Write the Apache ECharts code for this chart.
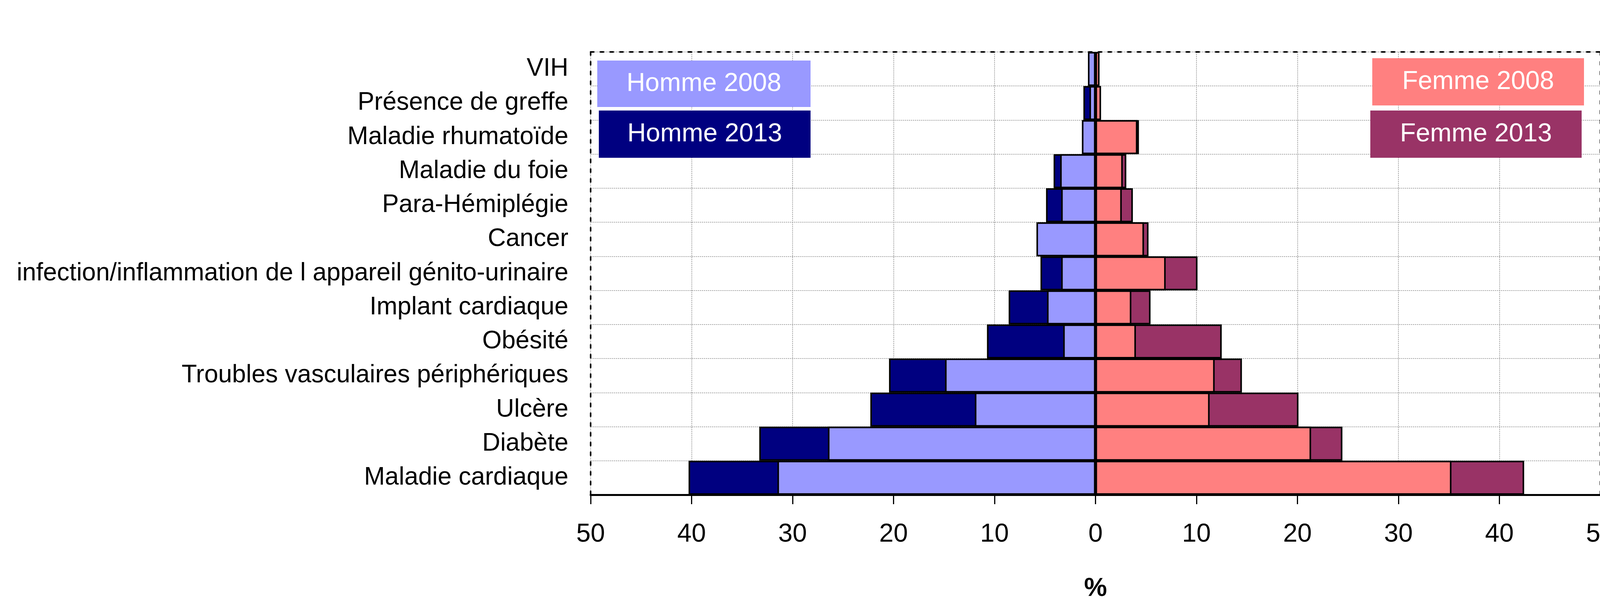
<!DOCTYPE html>
<html><head><meta charset="utf-8">
<script src="https://cdn.jsdelivr.net/npm/echarts@6/dist/echarts.min.js"></script>
<style>html,body{margin:0;padding:0;background:#fff}#c{width:4195px;height:1562px}</style>
</head><body><div id="c"></div>
<script>
const categories = ['VIH','Présence de greffe','Maladie rhumatoïde','Maladie du foie','Para-Hémiplégie','Cancer','infection/inflammation de l appareil génito-urinaire','Implant cardiaque','Obésité','Troubles vasculaires périphériques','Ulcère','Diabète','Maladie cardiaque'];
const homme2008 = [0.75, 0.6, 1.35, 3.5, 3.4, 5.85, 3.4, 4.8, 3.2, 14.9, 11.95, 26.5, 31.5];
const homme2013 = [0.7, 1.2, 1.3, 4.15, 4.9, 5.7, 5.45, 8.6, 10.75, 20.45, 22.3, 33.3, 40.3];
const femme2008 = [0.4, 0.55, 4.15, 2.7, 2.6, 4.8, 6.95, 3.55, 4.0, 11.8, 11.3, 21.35, 35.25];
const femme2013 = [0.35, 0.5, 4.3, 3.05, 3.7, 5.25, 10.1, 5.45, 12.5, 14.5, 20.1, 24.45, 42.45];
const seriesNames = ['Homme 2008','Homme 2013','Femme 2008','Femme 2013'];
const colors = {'Homme 2008':'#9999FF','Homme 2013':'#000080','Femme 2008':'#FF8080','Femme 2013':'#993366'};
const axisMin = -50, axisMax = 50, axisInterval = 10;
const axisTitle = '%';

const FONT = '"Liberation Sans", Arial, sans-serif';
const chart = echarts.init(document.getElementById('c'), null, {renderer:'canvas'});

function barSeries(name, values, negative){
  return {
    name, type:'bar', xAxisIndex:0, yAxisIndex:0,
    data: values.map(v => negative ? -v : v),
    barGap:'-100%', barCategoryGap:'0%',
    itemStyle:{color:colors[name], borderColor:'#000', borderWidth:4},
    emphasis:{disabled:true}, animation:false
  };
}
function legendBox(name, x, y, w, h){
  return [{
    type:'rect', shape:{x, y, width:w, height:h}, style:{fill:colors[name]}, z:100
  },{
    type:'text', x:x + w/2, y:y + h/2, z:101,
    style:{text:name, fill:'#fff', fontFamily:FONT, fontSize:66, textAlign:'center', textVerticalAlign:'middle', verticalAlign:'middle', align:'center'}
  }];
}

chart.setOption({
  animation:false,
  grid:{left:1512, right:98, top:133, bottom:295, containLabel:false},
  xAxis:[{
    type:'value', min:axisMin, max:axisMax, interval:axisInterval, position:'bottom',
    name:axisTitle, nameLocation:'middle', nameGap:208,
    nameTextStyle:{fontFamily:FONT, fontSize:66, fontWeight:'bold', color:'#000'},
    axisLine:{show:true, onZero:false, lineStyle:{color:'#000', width:5}},
    axisTick:{show:true, length:24, lineStyle:{color:'#000', width:3}},
    axisLabel:{fontFamily:FONT, fontSize:66, color:'#000', margin:69, formatter:v => String(Math.abs(v))},
    splitLine:{show:true, lineStyle:{color:'#8c8c8c', width:1.5, type:[3,2]}}
  },{
    type:'value', min:axisMin, max:axisMax, interval:axisInterval, position:'top',
    axisLine:{show:true, onZero:false, lineStyle:{color:'#000', width:4, type:[8,17]}},
    axisTick:{show:false}, axisLabel:{show:false}, splitLine:{show:false}
  }],
  yAxis:[{
    type:'category', data:categories, inverse:true, position:'left',
    axisLine:{show:true, onZero:false, lineStyle:{color:'#000', width:4, type:[8,17]}},
    axisTick:{show:false},
    axisLabel:{fontFamily:FONT, fontSize:64, color:'#000', margin:57},
    splitLine:{show:true, lineStyle:{color:'#8c8c8c', width:1.5, type:[3,2]}}
  },{
    type:'category', data:categories, inverse:true, position:'right',
    axisLine:{show:true, onZero:false, lineStyle:{color:'#000', width:4, type:[8,17]}},
    axisTick:{show:false}, axisLabel:{show:false}, splitLine:{show:false}
  }],
  series:[
    barSeries('Homme 2013', homme2013, true),
    barSeries('Homme 2008', homme2008, true),
    barSeries('Femme 2013', femme2013, false),
    barSeries('Femme 2008', femme2008, false)
  ],
  graphic:[].concat(
    legendBox('Homme 2008', 1529, 155, 546, 119),
    legendBox('Homme 2013', 1533, 283, 542, 121),
    legendBox('Femme 2008', 3513, 149, 542, 121),
    legendBox('Femme 2013', 3508, 283, 541, 121)
  )
});
</script></body></html>
